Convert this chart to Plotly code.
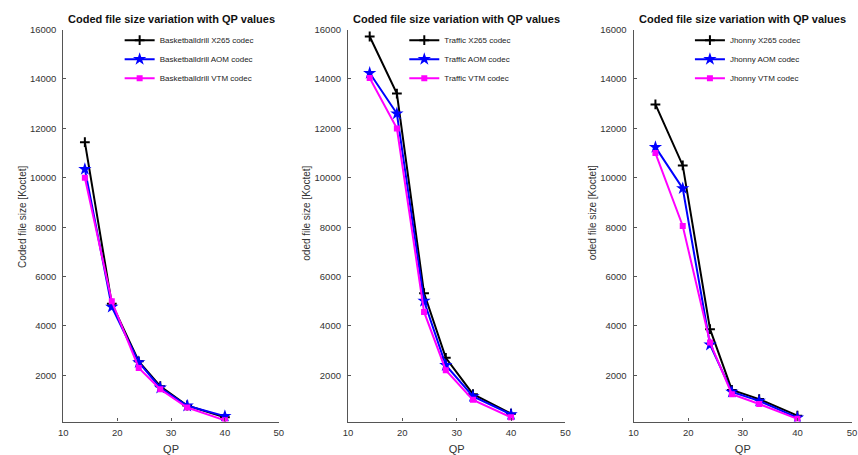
import plotly.graph_objects as go

# QP values used for every sequence
qp = [14, 19, 24, 28, 33, 40]

# Coded file size [Koctet] per sequence and codec
basket_x265 = [11440, 4900, 2570, 1560, 780, 300]
basket_aom = [10350, 4770, 2530, 1500, 770, 350]
basket_vtm = [10000, 5000, 2300, 1440, 700, 180]

traffic_x265 = [15720, 13410, 5330, 2710, 1240, 450]
traffic_aom = [14240, 12600, 5010, 2410, 1150, 420]
traffic_vtm = [14040, 12000, 4570, 2210, 1010, 300]

jhonny_x265 = [12970, 10500, 3870, 1410, 1040, 370]
jhonny_aom = [11240, 9570, 3240, 1330, 970, 290]
jhonny_vtm = [11000, 8050, 3330, 1240, 840, 240]

sequences = ["Basketballdrill", "Traffic", "Jhonny"]
series = [
    (basket_x265, basket_aom, basket_vtm),
    (traffic_x265, traffic_aom, traffic_vtm),
    (jhonny_x265, jhonny_aom, jhonny_vtm),
]
codecs = ["X265", "AOM", "VTM"]
y_titles = ["Coded file size [Koctet]", "oded file size [Koctet]", "oded file size [Koctet]"]
x_ticks = [10, 20, 30, 40, 50]
y_ticks = [2000, 4000, 6000, 8000, 10000, 12000, 14000, 16000]

W, H = 858, 455
FONT = "Liberation Sans, Arial, sans-serif"

styles = [
    dict(color="#000000", symbol="cross-thin", size=7, mline=2),
    dict(color="#0000ff", symbol="star", size=10, mline=0),
    dict(color="#ff00ff", symbol="square", size=6, mline=0),
]

# pixel extents of each panel's plot area
x_px = [(59, 277), (347, 567), (636, 857)]
y_top, y_bot = 24, 423

fig = go.Figure()
layout = dict(
    width=W, height=H,
    margin=dict(l=0, r=0, t=0, b=0),
    paper_bgcolor="white", plot_bgcolor="white",
    showlegend=True,
    font=dict(family=FONT, color="#333333"),
)
annotations = []

for i, (seq, vals) in enumerate(zip(sequences, series)):
    n = "" if i == 0 else str(i + 1)
    xa, ya = "x" + n, "y" + n
    leg = "legend" + n
    for codec, v, st in zip(codecs, vals, styles):
        fig.add_trace(go.Scatter(
            x=qp, y=v, mode="lines+markers",
            name=f"{seq} {codec} codec",
            xaxis=xa, yaxis=ya, legend=leg,
            line=dict(color=st["color"], width=2),
            marker=dict(color=st["color"], symbol=st["symbol"], size=st["size"],
                        line=dict(color=st["color"], width=st["mline"])),
        ))
    x0, x1 = x_px[i]
    axis_common = dict(
        showgrid=False, zeroline=False, showline=True,
        linecolor="#555555", linewidth=1.2,
        ticks="inside", ticklen=3, tickcolor="#555555",
        tickfont=dict(family=FONT, size=9.5, color="#333333"),
    )
    layout["xaxis" + n] = dict(
        domain=[x0 / W, x1 / W], range=[10, 50], tickvals=x_ticks,
        anchor=ya, ticklabelstandoff=2,
        title=dict(text="QP", font=dict(family=FONT, size=11, color="#333333"), standoff=9),
        **axis_common,
    )
    layout["yaxis" + n] = dict(
        domain=[1 - y_bot / H, 1 - y_top / H], range=[130, 16000], tickvals=y_ticks,
        tickformat="d", anchor=xa, ticklabelstandoff=4, **axis_common,
    )
    layout[leg] = dict(
        x=(x0 + 57) / W, y=1 - 20 / H, xanchor="left", yanchor="top",
        bgcolor="rgba(0,0,0,0)", borderwidth=0,
        font=dict(family=FONT, size=8, color="#222222"),
    )
    annotations.append(dict(
        text="<b>Coded file size variation with QP values</b>",
        x=(x0 + x1) / 2 / W, y=1 - 13 / H, xref="paper", yref="paper",
        xanchor="center", yanchor="middle", showarrow=False,
        font=dict(family=FONT, size=11, color="#111111"),
    ))
    annotations.append(dict(
        text=y_titles[i], textangle=-90,
        x=(x0 - 42) / W, y=1 - (215 if i == 0 else 211) / H, xref="paper", yref="paper",
        xanchor="center", yanchor="middle", showarrow=False,
        font=dict(family=FONT, size=10, color="#333333"),
    ))

layout["annotations"] = annotations
fig.update_layout(**layout)
fig.write_html("out.html")
